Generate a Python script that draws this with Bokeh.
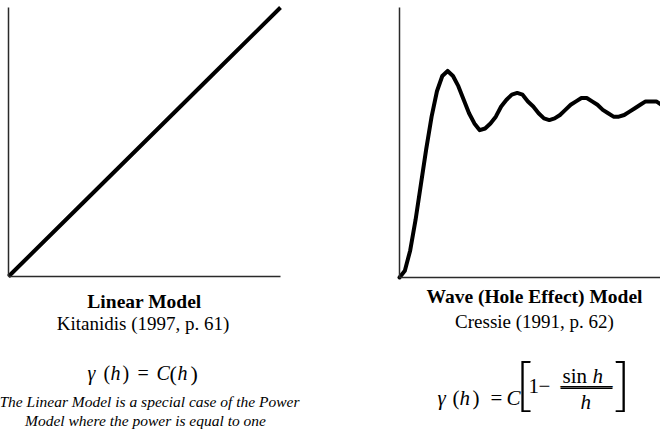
from bokeh.plotting import figure
from bokeh.layouts import row
from bokeh.models import Range1d, FixedTicker, Label
from bokeh.embed import file_html
from bokeh.resources import INLINE

# ---- data -------------------------------------------------------------
# Linear model: gamma(h) = C * h
lin_h = [0.0, 0.25, 0.5, 0.75, 1.0]
lin_gamma = [0.0, 0.25, 0.5, 0.75, 1.0]

# Wave (hole effect) model: gamma(h) = C * [1 - sin(h)/h], C = 1
wave_h = [0.0, 0.5, 1.0, 1.5, 2.0, 2.5, 3.0, 3.5, 4.0, 4.5, 5.0, 5.5, 6.0,
          6.5, 7.0, 7.5, 8.0, 8.5, 9.0, 9.5, 10.0, 10.5, 11.0, 11.5, 12.0,
          12.5, 13.0, 13.5, 14.0, 14.5, 15.0, 15.5, 16.0, 16.5, 17.0, 17.5,
          18.0, 18.5, 19.0, 19.5, 20.0, 20.5, 21.0, 21.5, 22.0, 22.5, 23.0,
          23.5, 24.0, 24.5]
wave_gamma = [0.00, 0.04, 0.16, 0.34, 0.55, 0.76, 0.95, 1.10, 1.19, 1.22,
              1.19, 1.13, 1.05, 0.97, 0.91, 0.87, 0.88, 0.91, 0.95, 1.01,
              1.05, 1.08, 1.09, 1.08, 1.04, 1.01, 0.97, 0.94, 0.93, 0.94,
              0.96, 0.99, 1.02, 1.04, 1.06, 1.06, 1.04, 1.02, 0.99, 0.97,
              0.95, 0.95, 0.96, 0.98, 1.00, 1.02, 1.04, 1.04, 1.04, 1.02]

titles = ["Linear Model", "Wave (Hole Effect) Model"]
sources = ["Kitanidis (1997, p. 61)", "Cressie (1991, p. 62)"]
note_lines = ["The Linear Model is a special case of the Power",
              "Model where the power is equal to one"]

SERIF = "Liberation Serif"
BRACKET_FONT = "Lato Light, Lato, Liberation Serif"
W, H = 330, 430
# Label boxes sit a little low relative to the requested baseline; this
# fraction of the font size lifts them back onto it.
LIFT = 0.38


def make_panel(x0_px, y0_px, x_scale, y_scale, x_bounds, y_bounds):
    """Panel whose plotting area fills the whole figure; the axes are pinned
    at data zero and only drawn over their bounds.  x0_px / y0_px give where
    data zero sits (pixels from the panel's left / top edge)."""
    x_range = Range1d(-x0_px / x_scale, (W - x0_px) / x_scale)
    y_range = Range1d(-(H - y0_px) / y_scale, y0_px / y_scale)
    p = figure(width=W, height=H, output_backend="svg", toolbar_location=None,
               x_range=x_range, y_range=y_range,
               min_border=0, min_border_left=0, min_border_right=0,
               min_border_top=0, min_border_bottom=0)
    p.outline_line_color = None
    p.grid.visible = False
    p.background_fill_color = "white"
    p.border_fill_color = "white"
    for ax, bounds in ((p.xaxis[0], x_bounds), (p.yaxis[0], y_bounds)):
        ax.fixed_location = 0
        ax.bounds = bounds
        ax.ticker = FixedTicker(ticks=[])
        ax.major_label_text_font_size = "0px"
        ax.major_label_standoff = 0
        ax.major_tick_in = 0
        ax.major_tick_out = 0
        ax.minor_tick_in = 0
        ax.minor_tick_out = 0
        ax.axis_line_color = "#2a2a2a"
        ax.axis_line_width = 1.5
    return p


def put(p, left_px, x, y, text, size, style="normal", align="left", font=SERIF):
    """Place a text piece with its baseline at page position (x, y)."""
    p.add_layout(Label(x=x - left_px, y=H - y + LIFT * size,
                       x_units="screen", y_units="screen",
                       text=text, text_font=font, text_font_size=f"{size}px",
                       text_font_style=style, text_align=align,
                       text_baseline="alphabetic", text_color="black",
                       background_fill_color=None, border_line_color=None))


# ---- left panel: linear model ------------------------------------------
left = make_panel(8, 276, 272, 269, (0, 1), (0, 1))
left.line(lin_h, lin_gamma, line_color="black", line_width=4)
L0 = 0
put(left, L0, 144, 308, titles[0], 19.5, "bold", "center")
put(left, L0, 142.5, 330, sources[0], 19, "normal", "center")
# gamma(h) = C(h)
put(left, L0, 87, 380, "\u03b3", 20, "italic")
put(left, L0, 103, 380, "(", 20)
put(left, L0, 110, 380, "h", 20, "italic")
put(left, L0, 122, 380, ")", 20)
put(left, L0, 137, 380, "=", 20)
put(left, L0, 156, 380, "C", 20, "italic")
put(left, L0, 169, 381, "(", 22)
put(left, L0, 177, 380, "h", 20, "italic")
put(left, L0, 190, 381, ")", 22)
put(left, L0, 149, 407, note_lines[0], 15.5, "italic", "center")
put(left, L0, 145, 426, note_lines[1], 15.5, "italic", "center")

# ---- right panel: wave model -------------------------------------------
RX0, RY0, RXS, RYS = 69, 277, 10.7, 169.3   # where h = 0 sits, px per unit
right = make_panel(RX0, RY0, RXS, RYS, (0, 24.4), (0, 1.595))
right.line(wave_h, wave_gamma, line_color="black", line_width=4,
           line_join="round", line_cap="round")
R0 = 330
put(right, R0, 534, 303, titles[1], 19.5, "bold", "center")
put(right, R0, 534, 328, sources[1], 19, "normal", "center")
# gamma(h) = C[1 - sin h / h]
put(right, R0, 437, 405, "\u03b3", 21, "italic")
put(right, R0, 452, 405, "(", 21)
put(right, R0, 459, 405, "h", 21, "italic")
put(right, R0, 472, 405, ")", 21)
put(right, R0, 490, 405, "=", 21)
put(right, R0, 506, 405, "C", 21, "italic")
put(right, R0, 515, 403, "[", 58, font=BRACKET_FONT)
put(right, R0, 528, 393, "1", 21)
put(right, R0, 538, 393, "\u2212", 21)
put(right, R0, 562, 383, "sin", 21)
put(right, R0, 592, 383, "h", 21, "italic")
put(right, R0, 580, 409, "h", 21, "italic")
put(right, R0, 613, 403, "]", 58, font=BRACKET_FONT)


# fraction bar under "sin h", placed from page pixels
def px_to_data(px, py):
    return (px - R0 - RX0) / RXS, (RY0 - py) / RYS


bx0, by = px_to_data(560, 387.8)
bx1, _ = px_to_data(612, 387.8)
right.segment(x0=[bx0], y0=[by], x1=[bx1], y1=[by],
              line_color="black", line_width=1.6)
# the same bar as a rule of em dashes, drawn above every other piece
put(right, R0, 560, 394, "\u2014\u2014", 26)

layout = row(left, right)
open("out.html", "w").write(file_html(layout, INLINE))
